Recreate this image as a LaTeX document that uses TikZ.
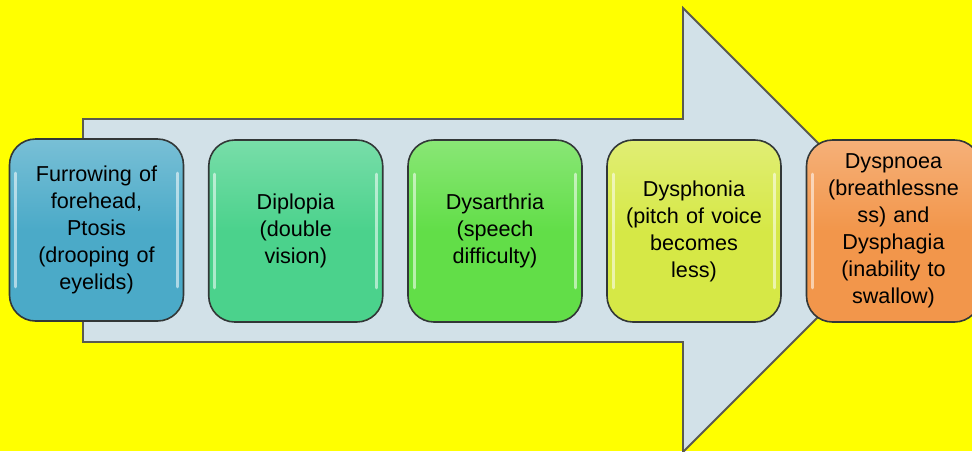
\documentclass[tikz,border=0pt]{standalone}
\usepackage{fontspec}
\setmainfont{Liberation Sans}
\usetikzlibrary{calc}
\definecolor{bgyellow}{RGB}{255,255,0}
\definecolor{arrowfill}{RGB}{210,225,232}
\definecolor{arrowline}{RGB}{90,90,80}
\definecolor{boxline}{RGB}{50,55,55}
\definecolor{cA}{RGB}{75,170,200}
\definecolor{cB}{RGB}{75,210,140}
\definecolor{cC}{RGB}{98,222,72}
\definecolor{cD}{RGB}{214,232,70}
\definecolor{cE}{RGB}{242,150,75}
\tikzset{
  stagebox/.style={draw=boxline, line width=1.6pt, rounded corners=26pt,
    minimum width=174pt, minimum height=182pt, text width=160pt, align=center,
    inner sep=0pt, font=\fontsize{21.6pt}{27pt}\selectfont,
    top color=#1!75!white, bottom color=#1, middle color=#1},
  gloss/.style={white, opacity=0.55, line width=3pt, line cap=round}
}
\begin{document}
\begin{tikzpicture}[x=1pt,y=-1pt]
\fill[bgyellow] (0,0) rectangle (972,451);
\useasboundingbox (0,0) rectangle (972,451);
\begin{scope}
\clip (0,0) rectangle (972,451);
\draw[fill=arrowfill, draw=arrowline, line width=1.8pt, line join=miter]
  (83,119) -- (683,119) -- (683,8) -- (905,230) -- (683,452) -- (683,342) -- (83,342) -- cycle;
\node[stagebox=cA] (s1) at (96.5,230) {Furrowing of\\forehead,\\Ptosis\\(drooping of\\eyelids)};
\node[stagebox=cB] (s2) at (295.75,231) {Diplopia\\(double\\vision)};
\node[stagebox=cC] (s3) at (495,231) {Dysarthria\\(speech\\difficulty)};
\node[stagebox=cD] (s4) at (694,231) {Dysphonia\\(pitch of voice\\becomes\\less)};
\node[stagebox=cE] (s5) at (893.5,231) {Dyspnoea\\(breathlessne\\ss) and\\Dysphagia\\(inability to\\swallow)};
\foreach \n in {s1,s2,s3,s4,s5} {
  \draw[gloss] ($(\n.north west)+(7,35)$) -- ($(\n.south west)+(7,-35)$);
  \draw[gloss] ($(\n.north east)+(-7,35)$) -- ($(\n.south east)+(-7,-35)$);
}
\end{scope}
\end{tikzpicture}
\end{document}
